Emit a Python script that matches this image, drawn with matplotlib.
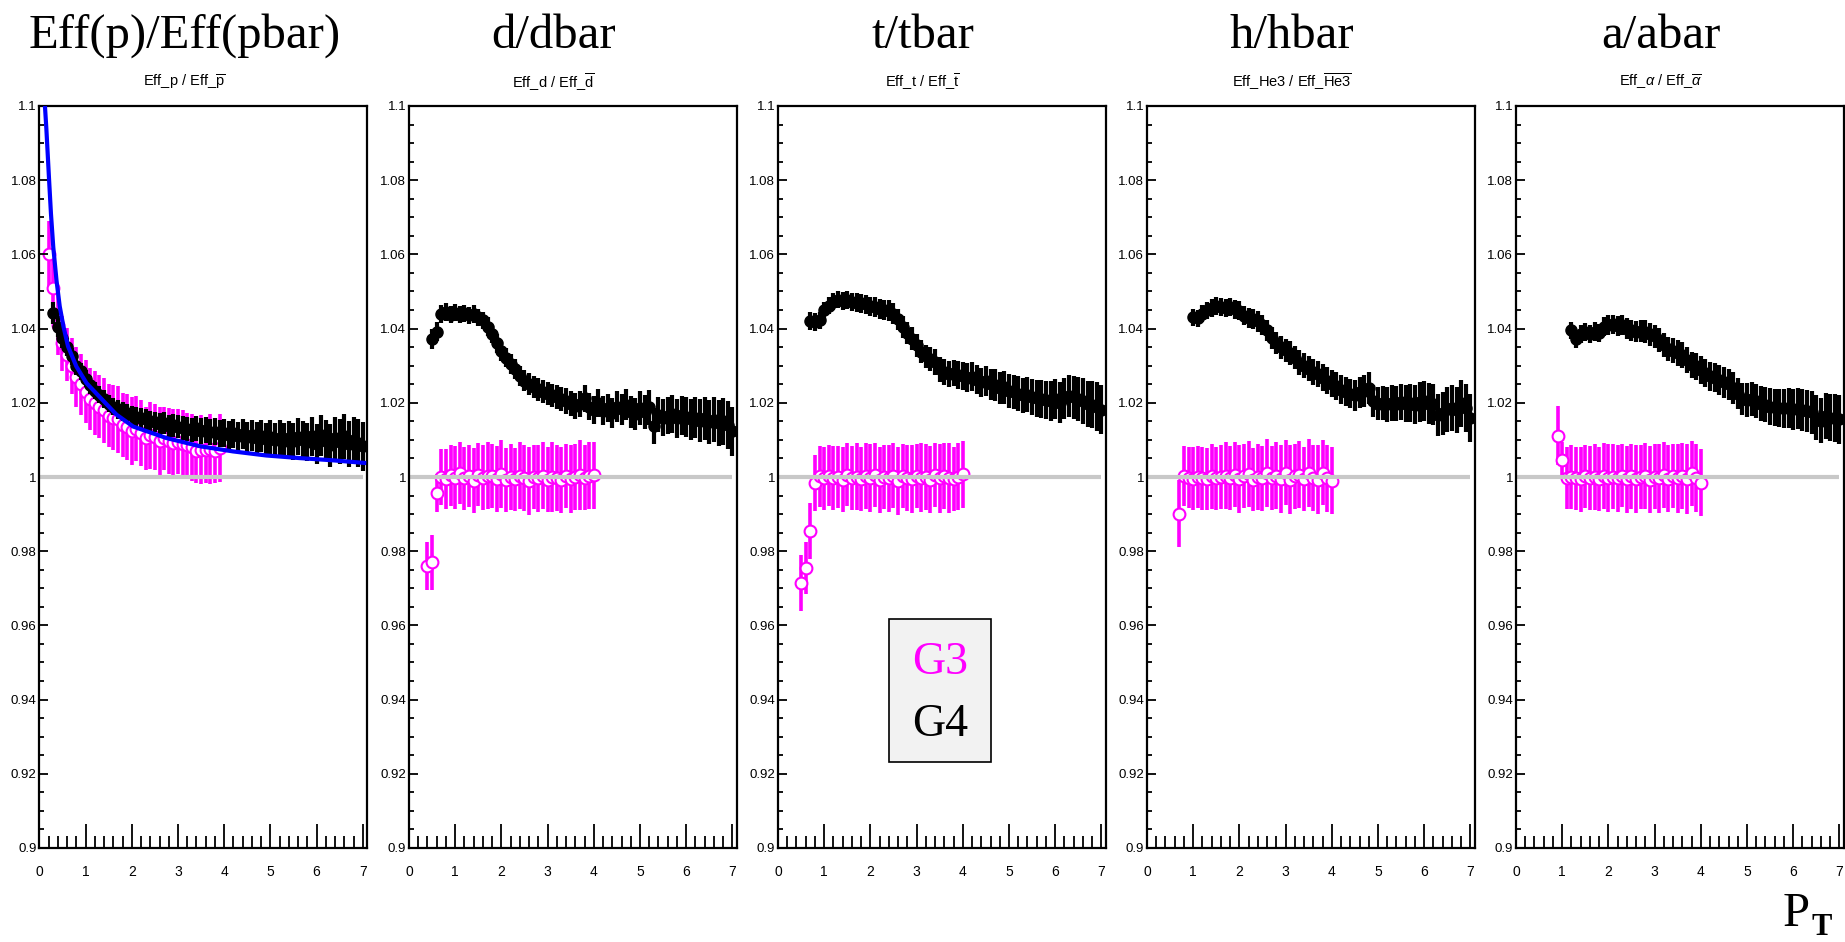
import matplotlib
matplotlib.use("Agg")
import matplotlib.pyplot as plt
from matplotlib.ticker import MultipleLocator, FuncFormatter
from matplotlib.patches import Rectangle
import numpy as np

plt.rcParams['font.family'] = ['Liberation Sans', 'DejaVu Sans']
plt.rcParams['mathtext.fontset'] = 'custom'
plt.rcParams['mathtext.rm'] = 'Liberation Sans'
plt.rcParams['mathtext.it'] = 'Liberation Sans:italic'

# ---- data (ratio Eff(particle)/Eff(antiparticle) vs pT, 0.1 GeV bins) ----
titles = ['Eff(p)/Eff(pbar)', 'd/dbar', 't/tbar', 'h/hbar', 'a/abar']
subtitles = [r'Eff_p / Eff_$\overline{\mathrm{p}}$',
             r'Eff_d / Eff_$\overline{\mathrm{d}}$',
             r'Eff_t / Eff_$\overline{\mathrm{t}}$',
             r'Eff_He3 / Eff_$\overline{\mathrm{He3}}$',
             r'Eff_$\alpha$ / Eff_$\overline{\alpha}$']

# G4 (black), first bin centre of each panel
g4_start = [0.3, 0.5, 0.7, 1.0, 1.2]
g4_p = [1.0442, 1.0405, 1.0375, 1.0350, 1.0325, 1.0300, 1.0285, 1.0265,
        1.0248, 1.0233, 1.0222, 1.0210, 1.0198, 1.0190, 1.0182, 1.0176, 1.0172, 1.0166,
        1.0162, 1.0158, 1.0155, 1.0150, 1.0148, 1.0143, 1.0146, 1.0138, 1.0140, 1.0135,
        1.0132, 1.0130, 1.0127, 1.0131, 1.0124, 1.0126, 1.0120, 1.0122, 1.0117, 1.0119,
        1.0114, 1.0118, 1.0110, 1.0115, 1.0108, 1.0112, 1.0105, 1.0110, 1.0102, 1.0108,
        1.0100, 1.0106, 1.0098, 1.0104, 1.0096, 1.0108, 1.0100, 1.0094, 1.0110, 1.0090,
        1.0112, 1.0098, 1.0085, 1.0105, 1.0095, 1.0110, 1.0088, 1.0100, 1.0092, 1.0083]
g4_d = [1.0372, 1.0392, 1.0440, 1.0445, 1.0438, 1.0443, 1.0437, 1.0441, 1.0436, 1.0440,
        1.0430, 1.0422, 1.0405, 1.0385, 1.0360, 1.0340, 1.0322, 1.0305, 1.0290, 1.0272,
        1.0260, 1.0250, 1.0242, 1.0236, 1.0230, 1.0224, 1.0220, 1.0216, 1.0210, 1.0205,
        1.0198, 1.0192, 1.0196, 1.0212, 1.0190, 1.0180, 1.0200, 1.0178, 1.0186, 1.0172,
        1.0190, 1.0182, 1.0195, 1.0176, 1.0170, 1.0186, 1.0175, 1.0188, 1.0138, 1.0168,
        1.0160, 1.0165, 1.0170, 1.0158, 1.0166, 1.0162, 1.0155, 1.0160, 1.0152, 1.0158,
        1.0148, 1.0154, 1.0145, 1.0150, 1.0140, 1.0123]
g4_t = [1.0420, 1.0418, 1.0422, 1.0450, 1.0462, 1.0472, 1.0478, 1.0475, 1.0478, 1.0472,
        1.0470, 1.0468, 1.0465, 1.0460, 1.0458, 1.0452, 1.0450, 1.0448, 1.0440, 1.0425,
        1.0405, 1.0388, 1.0372, 1.0355, 1.0338, 1.0325, 1.0318, 1.0310, 1.0290, 1.0282,
        1.0278, 1.0280, 1.0275, 1.0272, 1.0268, 1.0270, 1.0262, 1.0255, 1.0258, 1.0250,
        1.0248, 1.0240, 1.0242, 1.0232, 1.0228, 1.0225, 1.0220, 1.0222, 1.0215, 1.0212,
        1.0210, 1.0208, 1.0205, 1.0210, 1.0200, 1.0212, 1.0218, 1.0215, 1.0210, 1.0205,
        1.0198, 1.0195, 1.0190, 1.0181]
g4_h = [1.0431, 1.0428, 1.0440, 1.0450, 1.0455, 1.0460, 1.0458, 1.0456, 1.0458, 1.0452,
        1.0448, 1.0435, 1.0428, 1.0425, 1.0420, 1.0410, 1.0395, 1.0375, 1.0362, 1.0350,
        1.0342, 1.0335, 1.0322, 1.0308, 1.0300, 1.0292, 1.0282, 1.0278, 1.0268, 1.0260,
        1.0252, 1.0245, 1.0235, 1.0230, 1.0225, 1.0220, 1.0228, 1.0232, 1.0240, 1.0205,
        1.0198, 1.0200, 1.0196, 1.0200, 1.0198, 1.0202, 1.0198, 1.0200, 1.0195, 1.0202,
        1.0204, 1.0198, 1.0196, 1.0168, 1.0172, 1.0182, 1.0186, 1.0180, 1.0199, 1.0185,
        1.0159]
g4_a = [1.0395, 1.0372, 1.0385, 1.0390, 1.0386, 1.0392, 1.0388, 1.0405, 1.0410, 1.0412,
        1.0408, 1.0410, 1.0400, 1.0395, 1.0392, 1.0394, 1.0392, 1.0385, 1.0380, 1.0370,
        1.0355, 1.0345, 1.0340, 1.0334, 1.0328, 1.0315, 1.0302, 1.0298, 1.0288, 1.0280,
        1.0272, 1.0268, 1.0262, 1.0255, 1.0250, 1.0240, 1.0225, 1.0210, 1.0208, 1.0210,
        1.0205, 1.0198, 1.0195, 1.0190, 1.0188, 1.0186, 1.0185, 1.0186, 1.0182, 1.0184,
        1.0180, 1.0178, 1.0175, 1.0160, 1.0152, 1.0165, 1.0160, 1.0158, 1.0155]
# G4 statistical error per bin, starting at pT = 0.3
g4_err = [0.0030, 0.0028, 0.0026, 0.0025, 0.0024, 0.0024, 0.0023, 0.0023,
          0.0023, 0.0023, 0.0023, 0.0024, 0.0024, 0.0024, 0.0025, 0.0025, 0.0025, 0.0026,
          0.0026, 0.0027, 0.0027, 0.0028, 0.0028, 0.0029, 0.0030, 0.0030, 0.0031, 0.0031,
          0.0032, 0.0032, 0.0033, 0.0034, 0.0034, 0.0035, 0.0035, 0.0036, 0.0037, 0.0037,
          0.0038, 0.0039, 0.0039, 0.0040, 0.0041, 0.0042, 0.0042, 0.0043, 0.0044, 0.0045,
          0.0046, 0.0047, 0.0048, 0.0048, 0.0049, 0.0050, 0.0051, 0.0052, 0.0053, 0.0054,
          0.0055, 0.0056, 0.0057, 0.0058, 0.0060, 0.0061, 0.0062, 0.0063, 0.0065, 0.0066]

# G3 (magenta)
g3_start = [0.2, 0.4, 0.5, 0.7, 0.9]
g3_p = [1.060, 1.051, 1.041, 1.036, 1.033, 1.030, 1.027, 1.025, 1.023, 1.021,
        1.020, 1.019, 1.018, 1.0165, 1.016, 1.0155, 1.014, 1.0135, 1.0123, 1.013,
        1.0118, 1.0105, 1.0112, 1.0108, 1.0096, 1.0104, 1.0098, 1.0092, 1.0095, 1.0088,
        1.0085, 1.0080, 1.0069, 1.0074, 1.0072, 1.0076, 1.0070, 1.0078]
g3_d = [0.976, 0.977, 0.9957, 1.0000,
        0.9995, 1.0005, 0.9998, 1.0010, 0.9996, 1.0002, 0.9990, 1.0006, 0.9998, 1.0004,
        1.0002, 0.9995, 1.0008, 0.9992, 1.0000, 0.9994, 1.0003, 0.9997, 0.9990, 1.0001,
        0.9996, 1.0004, 0.9993, 1.0000, 0.9997, 0.9992, 1.0003, 0.9995, 1.0000, 1.0006,
        0.9998, 1.0004, 1.0005]
g3_t = [0.9715, 0.9755, 0.9855, 0.9984,
        1.0002, 0.9996, 1.0004, 0.9998, 1.0000, 0.9993, 1.0006, 0.9997, 1.0001, 0.9995,
        1.0003, 0.9998, 1.0005, 0.9992, 1.0000, 0.9996, 1.0004, 0.9990, 1.0002, 0.9997,
        0.9994, 1.0003, 0.9998, 1.0000, 0.9993, 1.0005, 0.9996, 1.0002, 0.9998, 0.9995,
        1.0001, 1.0007]
g3_h = [0.9901,
        1.0003, 0.9998, 0.9995, 1.0000, 0.9996, 0.9994, 1.0002, 0.9997, 1.0000, 1.0004,
        0.9998, 1.0006, 0.9995, 1.0003, 1.0008, 0.9993, 1.0000, 0.9996, 1.0010, 0.9998,
        1.0004, 0.9995, 1.0012, 0.9992, 1.0002, 1.0006, 0.9994, 1.0010, 0.9997, 0.9993,
        1.0012, 0.9996, 0.9990]
g3_a = [1.0111, 1.0047,
        0.9998, 1.0000, 0.9996, 0.9994, 1.0002, 0.9997, 1.0000, 0.9995, 1.0003, 0.9998,
        1.0001, 0.9996, 1.0004, 0.9994, 1.0002, 0.9995, 1.0000, 1.0003, 0.9993, 1.0001,
        0.9997, 1.0005, 0.9995, 1.0002, 0.9996, 1.0003, 0.9994, 1.0010, 0.9997, 0.9985]
# G3 error per bin, starting at pT = 0.2; low-pT edge bins listed separately
g3_err = [0.0090, 0.0085, 0.0080, 0.0075, 0.0072, 0.0075, 0.0080, 0.0082, 0.0085, 0.0083,
          0.0086, 0.0084, 0.0088, 0.0085, 0.0087, 0.0090, 0.0086, 0.0088, 0.0092, 0.0087,
          0.0089, 0.0085, 0.0090, 0.0088, 0.0092, 0.0086, 0.0089, 0.0091, 0.0087, 0.0093,
          0.0088, 0.0090, 0.0086, 0.0092, 0.0089, 0.0094, 0.0087, 0.0091, 0.0090]
g3_low_err = [[], [0.0065, 0.0075, 0.0050], [0.0075, 0.0070, 0.0075, 0.0075], [0.0090], [0.0080, 0.0048]]

# fit to G4 proton ratio
fit_x = [0.12, 0.15, 0.18, 0.21, 0.25, 0.30, 0.37, 0.44, 0.52, 0.62, 0.80, 1.02,
         1.31, 1.67, 2.03, 2.75, 3.47, 4.19, 4.91, 5.63, 6.35, 7.03]
fit_y = [1.100, 1.094, 1.087, 1.080, 1.071, 1.062, 1.053, 1.046, 1.0406, 1.0352, 1.0298, 1.0253,
         1.0215, 1.0168, 1.0136, 1.0105, 1.0083, 1.0069, 1.0058, 1.0051, 1.0045, 1.0038]

g4_all = [g4_p, g4_d, g4_t, g4_h, g4_a]
g3_all = [g3_p, g3_d, g3_t, g3_h, g3_a]

MAG = '#ff00ff'
W, H = 1845, 942


def bin_centres(start, n):
    return np.round(start + 0.1 * np.arange(n), 2)


fig = plt.figure(figsize=(W / 100, H / 100), dpi=100)

lefts = [39.4, 409.0, 778.0, 1147.0, 1516.0]
top_px, bot_px, width_px = 106.0, 848.0, 328.0

for i in range(5):
    ax = fig.add_axes([lefts[i] / W, 1 - bot_px / H, width_px / W, (bot_px - top_px) / H])
    ax.set_xlim(0, 7.1)
    ax.set_ylim(0.9, 1.1)

    # G3
    y3 = g3_all[i]
    x3 = bin_centres(g3_start[i], len(y3))
    k0 = int(round((g3_start[i] - 0.2) / 0.1))
    low = g3_low_err[i]
    e3 = low + g3_err[k0 + len(low):k0 + len(y3)]
    ax.errorbar(x3, y3, yerr=e3, fmt='o', ms=8.5, mfc='white', mec=MAG, mew=1.5,
                ecolor=MAG, elinewidth=2.6, capsize=0, zorder=1)

    ax.hlines(1.0, 0, 7.0, color='#c8c8c8', lw=3, zorder=2)

    # G4
    y4 = g4_all[i]
    x4 = bin_centres(g4_start[i], len(y4))
    k0 = int(round((g4_start[i] - 0.3) / 0.1))
    e4 = g4_err[k0:k0 + len(y4)]
    ax.errorbar(x4, y4, yerr=e4, fmt='o', ms=8, color='black', ecolor='black',
                elinewidth=3, capsize=0, zorder=3)

    if i == 0:
        ax.plot(fit_x, fit_y, color='#0000ff', lw=3, zorder=4)

    ax.xaxis.set_major_locator(MultipleLocator(1))
    ax.xaxis.set_minor_locator(MultipleLocator(0.2))
    ax.yaxis.set_major_locator(MultipleLocator(0.02))
    ax.yaxis.set_minor_locator(MultipleLocator(0.005))
    ax.yaxis.set_major_formatter(FuncFormatter(lambda v, p: '%g' % round(v, 3)))
    ax.tick_params(axis='x', which='major', direction='in', length=17, width=1.3,
                   labelsize=10, pad=12, top=False)
    ax.tick_params(axis='x', which='minor', direction='in', length=8.5, width=1.3, top=False)
    ax.tick_params(axis='y', which='major', direction='in', length=6.5, width=1.3,
                   labelsize=9.5, pad=2, right=False)
    ax.tick_params(axis='y', which='minor', direction='in', length=3.3, width=1.3, right=False)
    for s in ax.spines.values():
        s.set_linewidth(1.6)

    cx = (184.5 + 369 * i) / W
    fig.text(cx, 1 - 36 / H, titles[i], ha='center', va='center',
             family='Liberation Serif', fontsize=35)
    fig.text(cx, 1 - 82 / H, subtitles[i], ha='center', va='center', fontsize=10.5)

# legend box in the t/tbar panel
fig.patches.append(Rectangle((889 / W, 1 - 762 / H), 102 / W, 143 / H,
                             transform=fig.transFigure, facecolor='#f2f2f2',
                             edgecolor='black', lw=1.2, zorder=5))
fig.text(940 / W, 1 - 663 / H, 'G3', color=MAG, ha='center', va='center',
         family='Liberation Serif', fontsize=33, zorder=6)
fig.text(940 / W, 1 - 725 / H, 'G4', color='black', ha='center', va='center',
         family='Liberation Serif', fontsize=33, zorder=6)

# axis label
fig.text(1783 / W, 1 - 926 / H, 'P', ha='left', va='baseline',
         family='Liberation Serif', fontsize=35)
fig.text(1812 / W, 1 - 935 / H, 'T', ha='left', va='baseline',
         family='Liberation Serif', fontweight='bold', fontsize=22)

fig.savefig('out.png', dpi=100)
